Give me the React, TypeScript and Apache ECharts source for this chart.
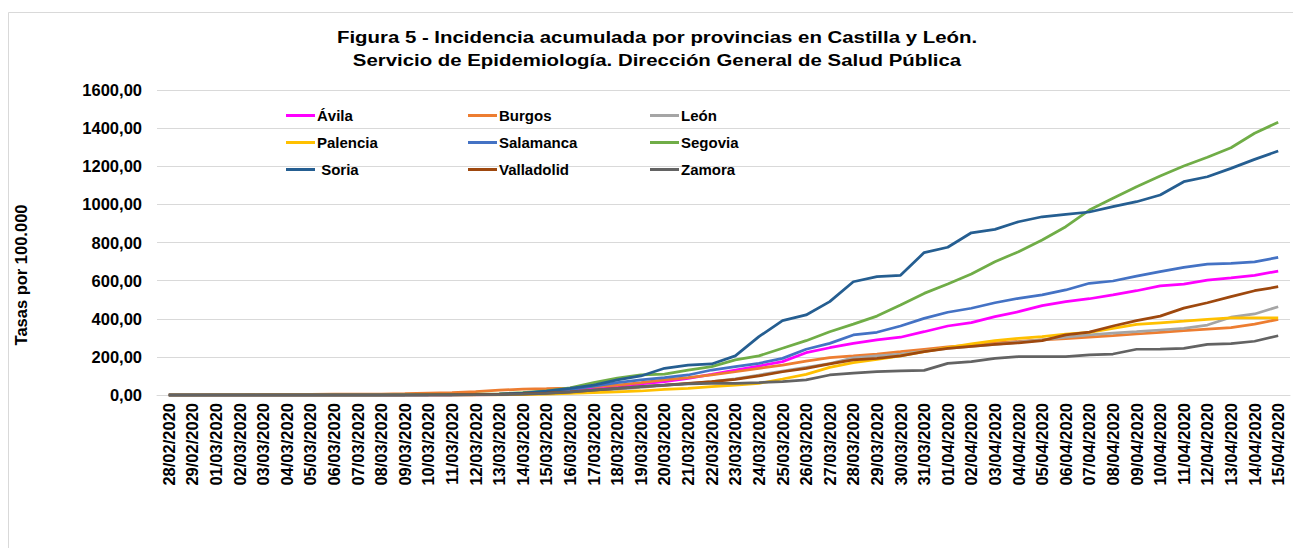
import React, { useEffect, useRef } from "react";
import * as echarts from "echarts";

const dates = [
  "28/02/2020","29/02/2020","01/03/2020","02/03/2020","03/03/2020","04/03/2020","05/03/2020","06/03/2020",
  "07/03/2020","08/03/2020","09/03/2020","10/03/2020","11/03/2020","12/03/2020","13/03/2020","14/03/2020",
  "15/03/2020","16/03/2020","17/03/2020","18/03/2020","19/03/2020","20/03/2020","21/03/2020","22/03/2020",
  "23/03/2020","24/03/2020","25/03/2020","26/03/2020","27/03/2020","28/03/2020","29/03/2020","30/03/2020",
  "31/03/2020","01/04/2020","02/04/2020","03/04/2020","04/04/2020","05/04/2020","06/04/2020","07/04/2020",
  "08/04/2020","09/04/2020","10/04/2020","11/04/2020","12/04/2020","13/04/2020","14/04/2020","15/04/2020",
];

const avila = [0,0,0,0,0,0,0,0,0,0,0,0,0,1,2,4,9,18,
  35,47,58,70,87,108,131,152,175,222,248,271,289,303,332,362,380,411,437,469,490,505,525,547,572,582,603,614,628,650];
const burgos = [1,1,2,2,3,3,3,4,4,5,7,10,13,18,25,31,33,36,
  44,52,65,79,91,105,122,140,157,178,196,205,215,227,240,253,262,274,281,289,296,303,311,320,329,338,346,353,372,397];
const leon = [0,0,0,0,0,0,0,0,0,0,0,0,1,2,3,5,10,17,
  25,30,40,50,60,70,85,105,125,145,165,195,205,215,230,245,255,265,277,289,303,315,324,332,341,350,367,408,425,463];
const palencia = [0,0,0,0,0,0,0,0,0,0,0,0,0,0,1,2,4,8,
  12,16,21,30,35,44,52,61,84,108,145,170,187,205,227,248,268,285,297,306,320,329,350,371,379,387,397,405,405,405];
const salamanca = [0,0,0,0,0,0,0,0,0,0,0,1,1,3,5,10,18,28,
  47,65,79,91,105,131,149,166,192,240,271,315,329,362,402,434,455,484,507,525,551,586,598,624,647,670,687,691,698,722];
const segovia = [0,0,0,0,0,0,0,0,0,0,1,2,3,4,6,12,22,38,
  65,88,105,110,131,149,184,205,245,285,332,372,414,472,533,582,635,699,752,813,883,970,1032,1093,1149,1201,1247,1297,1373,1431];
const soria = [0,0,0,0,0,0,0,0,0,0,0,0,1,2,5,10,20,35,
  52,79,100,140,157,163,205,306,390,420,490,594,621,628,747,775,851,869,909,935,948,960,988,1014,1049,1119,1145,1189,1236,1280];
const valladolid = [0,0,0,0,0,0,0,0,0,0,0,1,1,2,3,6,10,17,
  26,35,44,52,61,70,82,100,122,140,163,184,192,205,227,245,255,265,274,285,315,330,362,390,414,456,484,516,547,568];
const zamora = [0,0,0,0,0,0,0,0,0,0,0,0,0,1,2,4,8,15,
  26,35,44,52,58,61,61,65,70,79,105,115,122,126,129,166,175,192,201,201,201,210,215,240,241,245,266,270,282,311];

const seriesDefs = [
  { name: "Ávila", data: avila, color: "#FF00FF" },
  { name: "Burgos", data: burgos, color: "#ED7D31" },
  { name: "León", data: leon, color: "#A5A5A5" },
  { name: "Palencia", data: palencia, color: "#FFC000" },
  { name: "Salamanca", data: salamanca, color: "#4472C4" },
  { name: "Segovia", data: segovia, color: "#70AD47" },
  { name: " Soria", data: soria, color: "#255E91" },
  { name: "Valladolid", data: valladolid, color: "#9E480E" },
  { name: "Zamora", data: zamora, color: "#636363" },
];

const titleLines = [
  "Figura 5 - Incidencia acumulada por provincias en Castilla y León.",
  "Servicio de Epidemiología. Dirección General de Salud Pública",
];
const yAxisTitle = "Tasas por 100.000";

const FONT = "Liberation Sans, Arial, sans-serif";

export default function App() {
  const ref = useRef<HTMLDivElement>(null);
  useEffect(() => {
    document.body.style.margin = "0";
    const chart = echarts.init(ref.current!, null, { renderer: "svg" });
    const legendCol = (names: string[], left: number) => ({
      orient: "vertical",
      left,
      top: 103,
      data: names,
      icon: "rect",
      itemWidth: 29,
      itemHeight: 3,
      itemGap: 12,
      textStyle: { fontFamily: FONT, fontWeight: "bold", fontSize: 15, color: "#000", lineHeight: 15, padding: [0, 0, 0, -3] },
      selectedMode: false,
    });
    const titleStyle = { fontFamily: FONT, fontWeight: "bold", fontSize: 17, fill: "#000", align: "center", verticalAlign: "middle" };
    chart.setOption({
      animation: false,
      backgroundColor: "#fff",
      graphic: [
        { type: "rect", shape: { x: 8.5, y: 12.5, width: 1300, height: 600 }, style: { fill: "none", stroke: "#d9d9d9", lineWidth: 1 }, silent: true },
        { type: "text", x: 657, y: 37, scaleX: 1.2, style: { text: titleLines[0], ...titleStyle } },
        { type: "text", x: 657, y: 60, scaleX: 1.2, style: { text: titleLines[1], ...titleStyle } },
        { type: "text", x: 21, y: 275, rotation: Math.PI / 2, style: { text: yAxisTitle, fontFamily: FONT, fontWeight: "bold", fontSize: 16.5, fill: "#000", align: "center", verticalAlign: "middle" } },
      ],
      legend: [
        legendCol(["Ávila", "Palencia", " Soria"], 281),
        legendCol(["Burgos", "Salamanca", "Valladolid"], 463),
        legendCol(["León", "Segovia", "Zamora"], 645),
      ],
      grid: { left: 157, right: 3, top: 90, bottom: 153, containLabel: false },
      xAxis: {
        type: "category",
        data: dates,
        boundaryGap: true,
        axisLine: { lineStyle: { color: "#d9d9d9", width: 1 } },
        axisTick: { show: false },
        axisLabel: { interval: 0, rotate: 90, margin: 8, fontFamily: FONT, fontWeight: "bold", fontSize: 16.5, color: "#000" },
      },
      yAxis: {
        type: "value",
        min: 0,
        max: 1600,
        interval: 200,
        axisLine: { show: false },
        axisTick: { show: false },
        splitLine: { lineStyle: { color: "#d9d9d9", width: 1 } },
        axisLabel: {
          margin: 15,
          fontFamily: FONT,
          fontWeight: "bold",
          fontSize: 16.5,
          color: "#000",
          formatter: (v: number) => v.toFixed(2).replace(".", ","),
        },
      },
      series: seriesDefs.map((s) => ({
        name: s.name,
        type: "line",
        data: s.data,
        symbol: "none",
        color: s.color,
        lineStyle: { color: s.color, width: 2.75 },
      })),
    });
    return () => chart.dispose();
  }, []);
  return <div ref={ref} style={{ width: 1293, height: 548 }} />;
}
